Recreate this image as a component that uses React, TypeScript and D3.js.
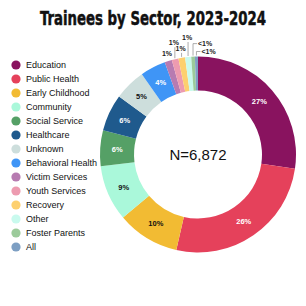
import React from "react";
import * as d3 from "d3";

const categories = [
  "Education", "Public Health", "Early Childhood", "Community", "Social Service",
  "Healthcare", "Unknown", "Behavioral Health", "Victim Services", "Youth Services",
  "Recovery", "Other", "Foster Parents", "All",
];
const values = [27.3, 26.2, 10.3, 9.2, 5.9, 6.1, 5.2, 4.2, 1.2, 1.1, 1.1, 1.0, 0.6, 0.5];
const labels = ["27%", "26%", "10%", "9%", "6%", "6%", "5%", "4%", "1%", "1%", "1%", "1%", "<1%", "<1%"];
const colors = [
  "#89135f", "#e5415b", "#f2bb33", "#aaf8da", "#55a066", "#1f5a8d", "#cddedc",
  "#3f95f6", "#b77bb1", "#ed9bb0", "#fdd06f", "#c9faee", "#9ccb9b", "#7d9fc3",
];
const darkLabel = [false, false, true, true, false, false, true, false];
const title = "Trainees by Sector, 2023-2024";
const centerText = "N=6,872";

// layout of small outside labels: lift above arc, and whether text sits to the right of a bracket
const smallLift = [3, 12, 5, 15, 12, 4];
const smallRight = [false, false, false, false, true, true];

export default function App() {
  const W = 306, H = 306;
  const cx = 198, cy = 154.5, rOuter = 98, rInner = 64;
  const pie = d3.pie<number>().sort(null).value((d) => d).startAngle(0).endAngle(2 * Math.PI);
  const arcs = pie(values);
  const arc = d3.arc<d3.PieArcDatum<number>>().innerRadius(rInner).outerRadius(rOuter);
  const labelArc = d3.arc<d3.PieArcDatum<number>>().innerRadius(81).outerRadius(81);
  const pt = (a: number, r: number) => [cx + r * Math.sin(a), cy - r * Math.cos(a)];
  const legendY = d3.scaleLinear().domain([0, 1]).range([65, 79]);

  return (
    <svg width={W} height={H} style={{ position: "absolute", left: 0, top: 0, background: "#fff" }}>
      <text x={153} y={25} textAnchor="middle" fontFamily="'Liberation Sans Narrow', 'DejaVu Sans Condensed', Arial" fontWeight="bold" fontSize={20} textLength={226} lengthAdjust="spacingAndGlyphs" fill="#111" stroke="#111" strokeWidth={0.5}>{title}</text>
      {categories.map((c, i) => (
        <g key={c}>
          <circle cx={16} cy={legendY(i)} r={4.6} fill={colors[i]} />
          <text x={26} y={legendY(i) + 3.2} fontFamily="'Liberation Sans', Arial, sans-serif" fontSize={9} fill="#111">{c}</text>
        </g>
      ))}
      <g transform={`translate(${cx},${cy})`}>
        {arcs.map((a, i) => (
          <path key={i} d={arc(a) || ""} fill={colors[i]} />
        ))}
        {arcs.slice(0, 8).map((a, i) => {
          const [x, y] = labelArc.centroid(a);
          return (
            <text key={i} x={x} y={y + 2.7} textAnchor="middle" fontFamily="'Liberation Sans', Arial, sans-serif" fontWeight="bold" fontSize={7.5} fill={darkLabel[i] ? "#111" : "#fff"}>{labels[i]}</text>
          );
        })}
      </g>
      {arcs.slice(8).map((a, j) => {
        const i = j + 8;
        const mid = (a.startAngle + a.endAngle) / 2;
        const [x0, y0] = pt(mid, rOuter + 1);
        const yTop = y0 - smallLift[j];
        if (smallRight[j]) {
          return (
            <g key={i}>
              <polyline points={`${x0},${y0} ${x0},${yTop} ${x0 + 4},${yTop}`} fill="none" stroke="#888" strokeWidth={0.7} />
              <text x={x0 + 5} y={yTop + 2.5} fontFamily="'Liberation Sans', Arial, sans-serif" fontWeight="bold" fontSize={7} fill="#222">{labels[i]}</text>
            </g>
          );
        }
        return (
          <g key={i}>
            {smallLift[j] > 4 && <line x1={x0} y1={y0} x2={x0} y2={yTop + 1} stroke="#888" strokeWidth={0.7} />}
            <text x={x0 - 1} y={yTop - 1} textAnchor="middle" fontFamily="'Liberation Sans', Arial, sans-serif" fontWeight="bold" fontSize={7} fill="#222">{labels[i]}</text>
          </g>
        );
      })}
      <text x={cx} y={cy + 5} textAnchor="middle" fontFamily="'Liberation Sans', Arial, sans-serif" fontSize={15} fill="#111">{centerText}</text>
    </svg>
  );
}
